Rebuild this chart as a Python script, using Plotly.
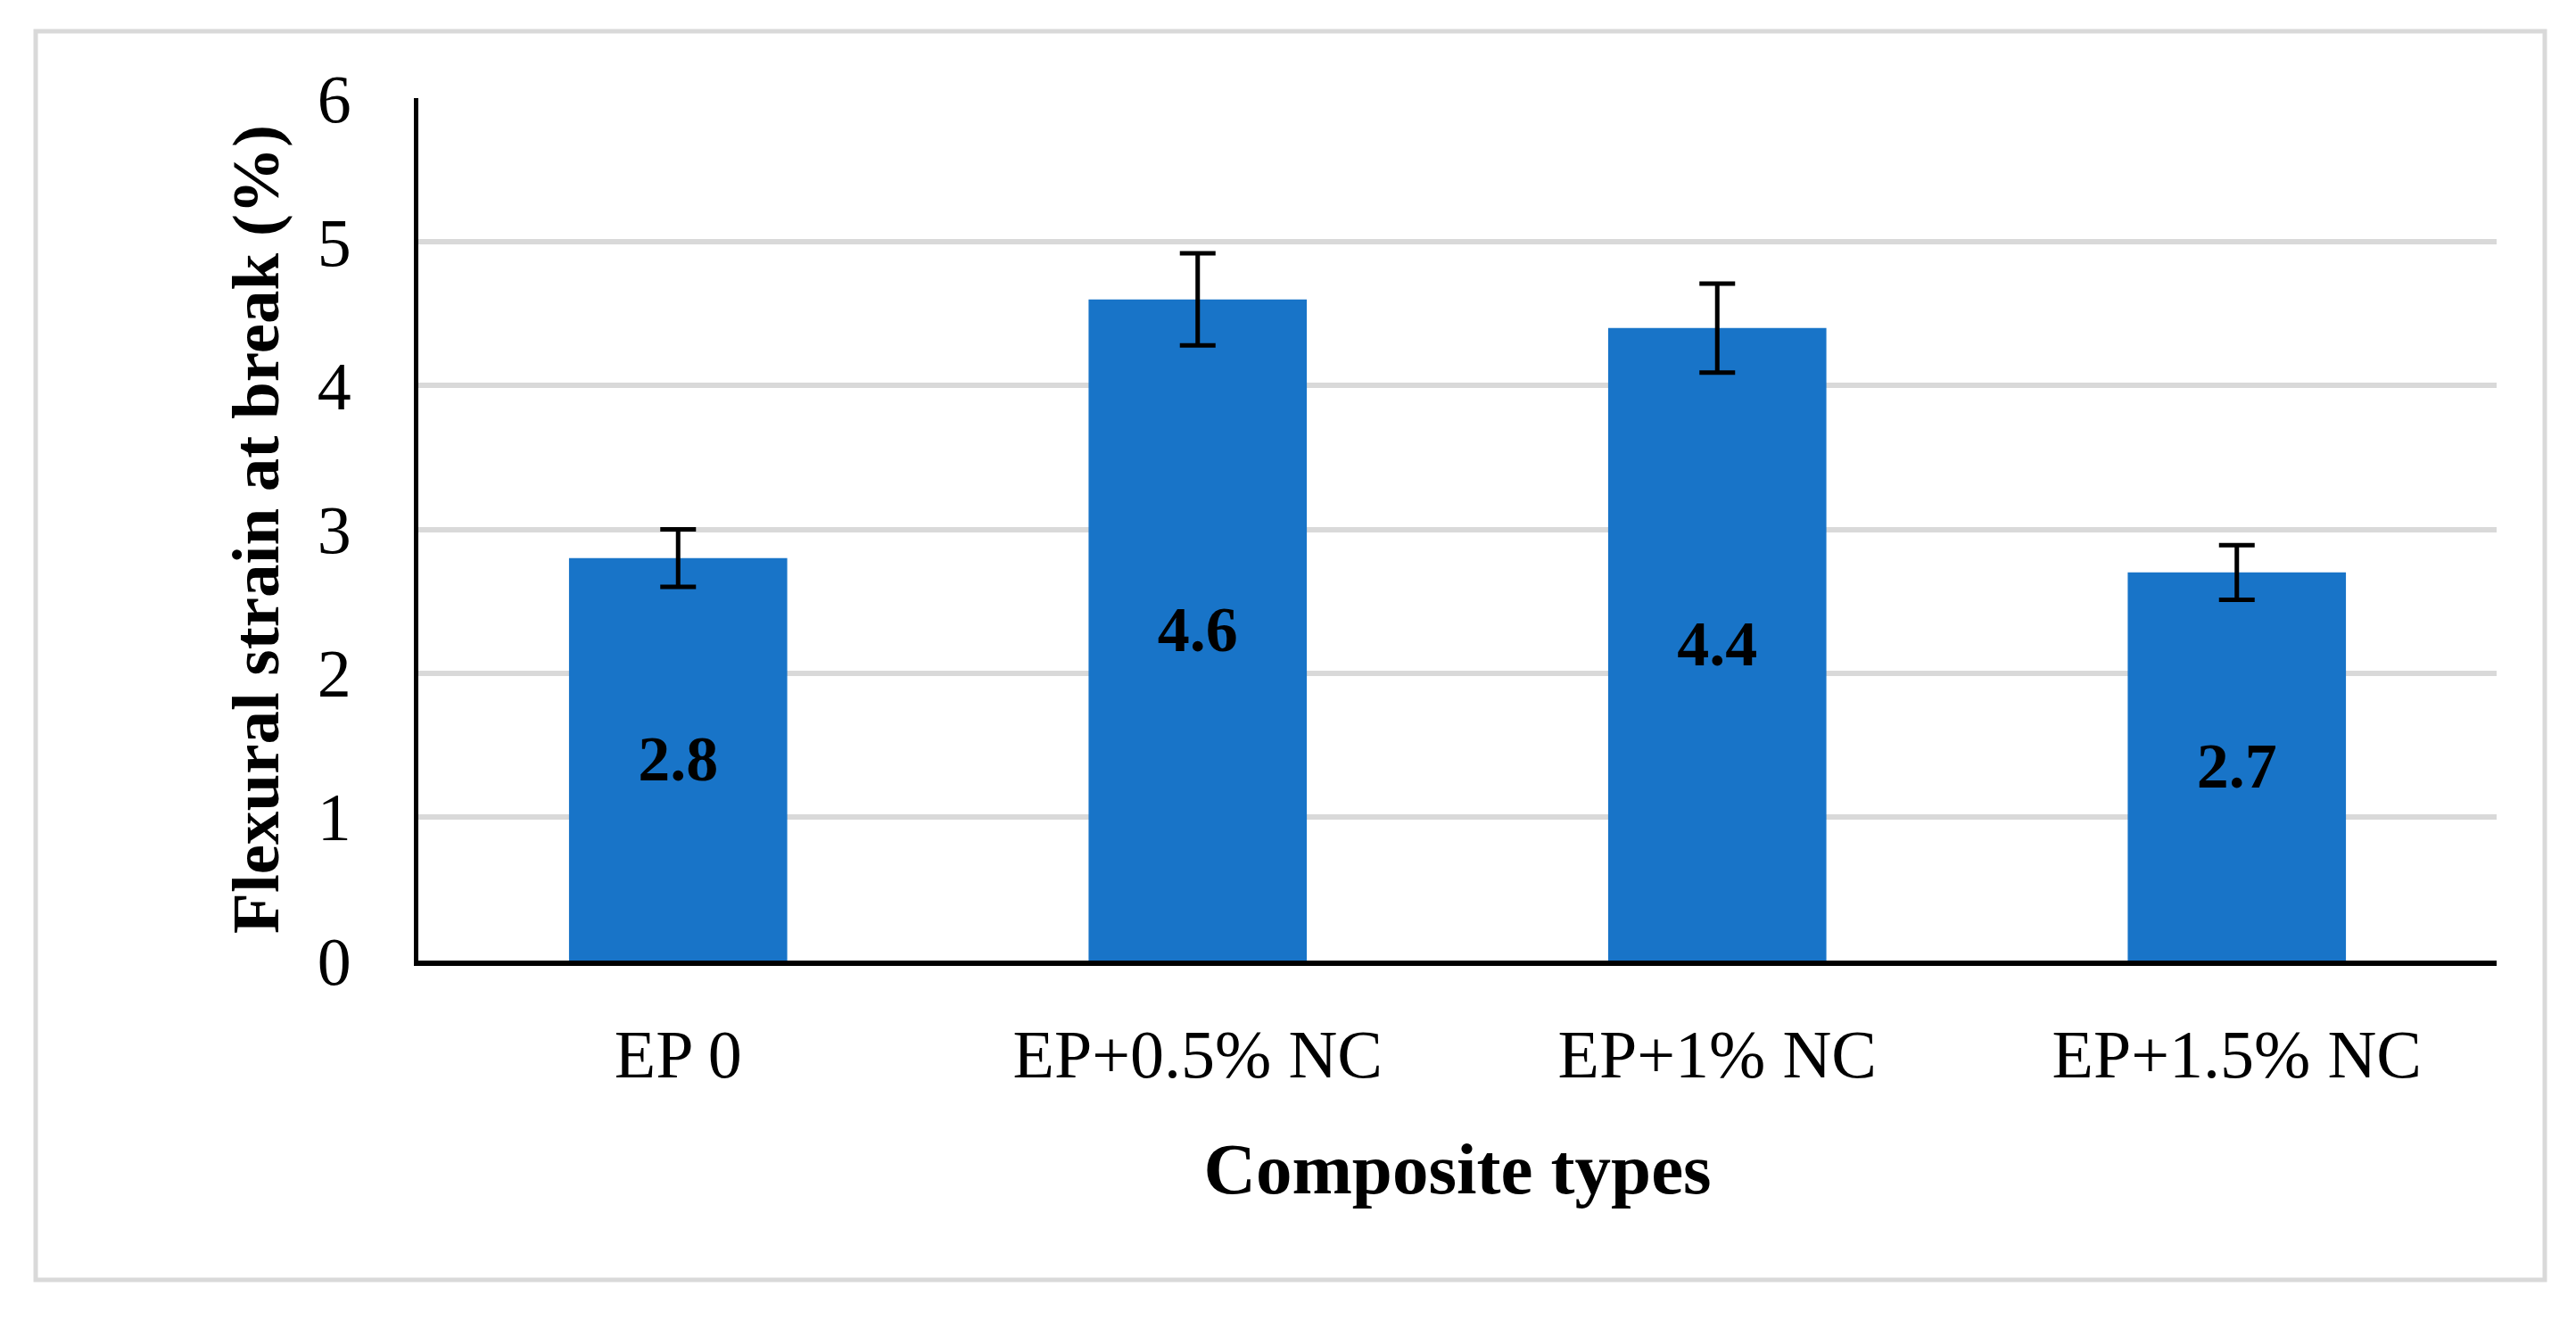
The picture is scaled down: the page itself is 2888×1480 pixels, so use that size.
import plotly.graph_objects as go

categories = ["EP 0", "EP+0.5% NC", "EP+1% NC", "EP+1.5% NC"]
values = [2.8, 4.6, 4.4, 2.7]
errors = [0.2, 0.32, 0.31, 0.19]
value_labels = ["2.8", "4.6", "4.4", "2.7"]
y_ticks = [0, 1, 2, 3, 4, 5, 6]

# page body has an 8px margin; figure is shifted accordingly
OFF = 8
W, H = 2888 - OFF, 1480 - OFF
L, T = 469 - OFF, 110 - OFF
R = W - (2799 - OFF)
B = H - (1077 - OFF)
FONT = "Palatino Linotype, Book Antiqua, Liberation Serif, serif"

fig = go.Figure()
fig.add_trace(go.Bar(
    x=categories, y=values,
    marker=dict(color="#1874C8", line=dict(width=0)),
    error_y=dict(type="data", array=errors, visible=True, color="black",
                 thickness=5, width=20),
    text=value_labels, textposition="inside", insidetextanchor="middle",
    textangle=0,
    textfont=dict(family=FONT, size=72, color="black", weight="bold"),
    cliponaxis=False,
))

pw = W - L - R
ph = H - T - B
def px_x(x):
    return (x - OFF - L) / pw
def px_y(y):
    return (H - B - (y - OFF)) / ph

fig.update_layout(
    width=W, height=H,
    margin=dict(l=L, r=R, t=T, b=B),
    paper_bgcolor="white", plot_bgcolor="white",
    bargap=0.58, showlegend=False,
    font=dict(family=FONT, color="black"),
    xaxis=dict(
        showline=True, linecolor="black", linewidth=6,
        showgrid=False, ticks="", ticklabelstandoff=34,
        tickfont=dict(family=FONT, size=76, color="black"),
        title=dict(text="<b>Composite types</b>", font=dict(family=FONT, size=81, color="black"),
                   standoff=60),
    ),
    yaxis=dict(
        range=[0, 6], tickvals=y_ticks, ticktext=[str(v) for v in y_ticks],
        showline=True, linecolor="black", linewidth=5,
        showgrid=True, gridcolor="#d9d9d9", gridwidth=6,
        zeroline=False, ticks="", ticklabelstandoff=55,
        tickfont=dict(family=FONT, size=76, color="black"),
        title=dict(text="<b>Flexural strain at break (%)</b>",
                   font=dict(family=FONT, size=75, color="black"), standoff=20),
    ),
    shapes=[dict(type="rect", xref="paper", yref="paper",
                 x0=px_x(40), x1=px_x(2853), y0=px_y(1435), y1=px_y(35),
                 line=dict(color="#d9d9d9", width=5), fillcolor="rgba(0,0,0,0)",
                 layer="below")],
)

fig.write_html("out.html")
